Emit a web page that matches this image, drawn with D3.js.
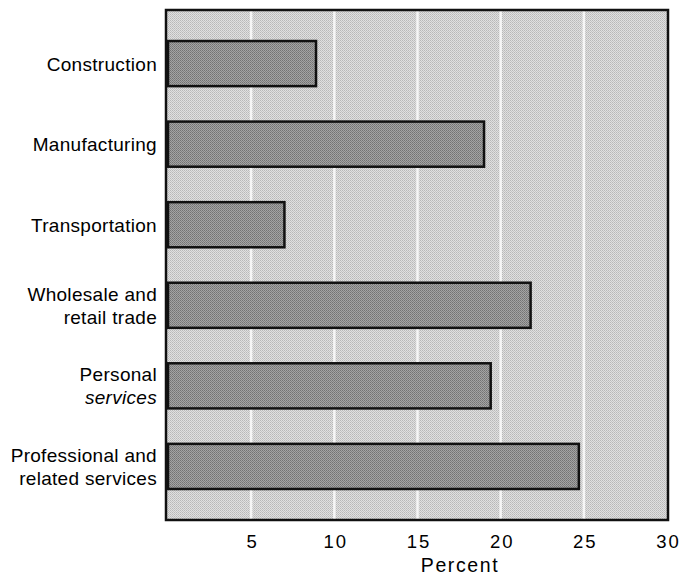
<!DOCTYPE html>
<html><head><meta charset="utf-8">
<script src="https://cdn.jsdelivr.net/npm/d3@7"></script>
<style>body{margin:0;background:#fff}svg{display:block}text{font-family:"Liberation Sans",Arial,sans-serif;fill:#000}</style>
</head><body>
<script>
const categories = [["Construction"],["Manufacturing"],["Transportation"],["Wholesale and","retail trade"],["Personal","services"],["Professional and","related services"]];
const categoryKeys = ["Construction","Manufacturing","Transportation","Wholesale and retail trade","Personal services","Professional and related services"];
const values = [8.9, 19.0, 7.0, 21.8, 19.4, 24.7];
const tickValues = [5,10,15,20,25,30];
const xLabel = "Percent";

const W=684,H=580, L=166, R=668, T=10, B=520;
const svg=d3.select("body").append("svg").attr("width",W).attr("height",H);
const x=d3.scaleLinear().domain([0,30]).range([168,667]);
const y=d3.scaleBand().domain(categoryKeys).range([T,B]).paddingInner(0.44).paddingOuter(0.385);

const defs=svg.append("defs");
const p1=defs.append("pattern").attr("id","bg").attr("width",2).attr("height",2).attr("patternUnits","userSpaceOnUse");
p1.append("rect").attr("width",2).attr("height",2).attr("fill","#e0e0e0");
p1.append("rect").attr("width",1).attr("height",1).attr("fill","#b8b8b8");
p1.append("rect").attr("x",1).attr("y",1).attr("width",1).attr("height",1).attr("fill","#c4c4c4");
const p2=defs.append("pattern").attr("id","bar").attr("width",2).attr("height",2).attr("patternUnits","userSpaceOnUse");
p2.append("rect").attr("width",2).attr("height",2).attr("fill","#a4a4a4");
p2.append("rect").attr("width",1).attr("height",1).attr("fill","#737373");
p2.append("rect").attr("x",1).attr("y",1).attr("width",1).attr("height",1).attr("fill","#808080");

svg.append("rect").attr("x",L).attr("y",T).attr("width",R-L).attr("height",B-T).attr("fill","url(#bg)");
svg.selectAll("line.grid").data(tickValues.slice(0,-1)).join("line").attr("class","grid")
  .attr("x1",d=>x(d)).attr("x2",d=>x(d)).attr("y1",T).attr("y2",B)
  .attr("stroke","#f6f6f6").attr("stroke-width",2.5);

svg.selectAll("rect.bar").data(values).join("rect").attr("class","bar")
  .attr("x",x(0)).attr("y",(d,i)=>y(categoryKeys[i]))
  .attr("width",d=>x(d)-x(0)).attr("height",y.bandwidth())
  .attr("fill","url(#bar)").attr("stroke","#111").attr("stroke-width",2.5);

svg.append("rect").attr("x",L).attr("y",T).attr("width",R-L).attr("height",B-T)
  .attr("fill","none").attr("stroke","#111").attr("stroke-width",2.5);

const xAxis=svg.append("g").attr("transform",`translate(0,${B})`)
  .call(d3.axisBottom(x).tickValues(tickValues).tickSize(0).tickPadding(15));
xAxis.select(".domain").remove();
xAxis.selectAll("text").attr("font-size",18.5).style("font-family","Liberation Sans, Arial, sans-serif")
  .style("letter-spacing","2px").attr("dx","1px").attr("fill","#000");

svg.append("text").attr("x",460).attr("y",572).attr("text-anchor","middle").attr("font-size",19.5)
  .style("letter-spacing","1.6px").text(xLabel);

categories.forEach((lines,i)=>{
  const cy=y(categoryKeys[i])+y.bandwidth()/2;
  const lh=23;
  const t=svg.append("text").attr("text-anchor","end").attr("font-size",19).style("letter-spacing","0.3px");
  lines.forEach((ln,j)=>{
    t.append("tspan").attr("x",157).attr("y",cy+(j-(lines.length-1)/2)*lh+7)
      .style("font-style", (i===4&&j===1)?"italic":"normal").text(ln);
  });
});
</script>
</body></html>
